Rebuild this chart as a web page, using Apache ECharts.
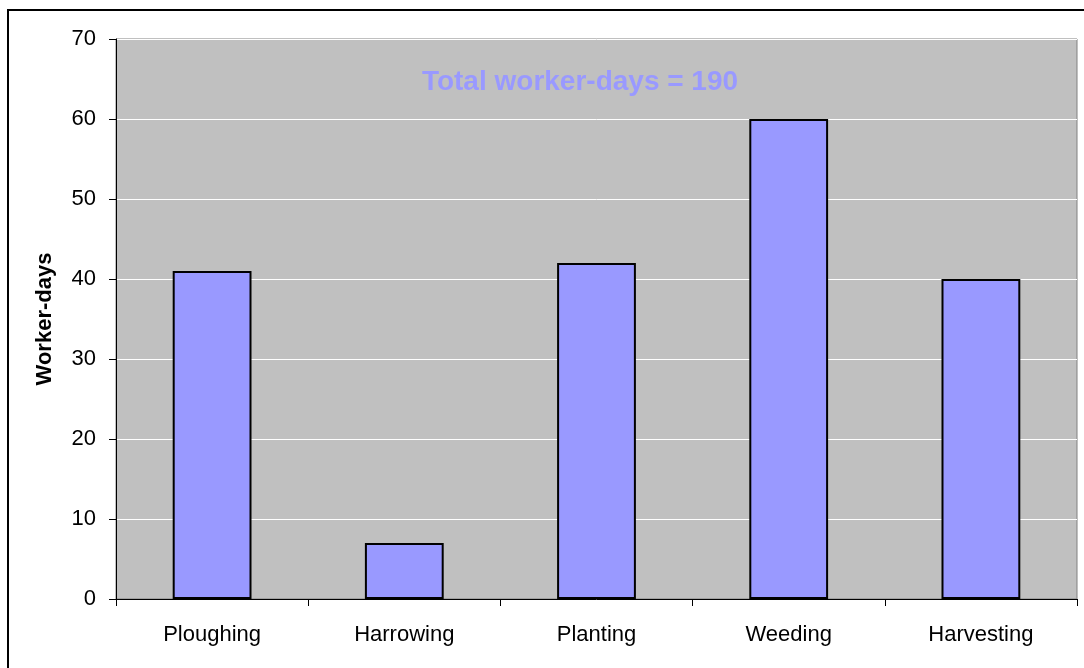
<!DOCTYPE html>
<html>
<head>
<meta charset="utf-8">
<style>
  html, body { margin: 0; padding: 0; background: #fff; }
  #chart { width: 1084px; height: 668px; }
</style>
<script src="https://cdn.jsdelivr.net/npm/echarts@6/dist/echarts.min.js"></script>
</head>
<body>
<div id="chart"></div>
<script>
// Worker-days spent on each field operation
const categories = ['Ploughing', 'Harrowing', 'Planting', 'Weeding', 'Harvesting'];
const workerDays = [41, 7, 42, 60, 40];
const totalLabel = 'Total worker-days = 190';
const yAxisTitle = 'Worker-days';

const FONT = '"Liberation Sans", Arial, sans-serif';

const chart = echarts.init(document.getElementById('chart'), null, { renderer: 'canvas' });

chart.setOption({
  animation: false,
  backgroundColor: '#ffffff',
  grid: {
    left: 116, right: 7, top: 39, bottom: 69,
    show: true,
    backgroundColor: '#C0C0C0',
    borderColor: '#808080',
    borderWidth: 1
  },
  xAxis: {
    type: 'category',
    data: categories,
    axisLine: { lineStyle: { color: '#000', width: 1 } },
    axisTick: { show: true, alignWithLabel: false, length: 7, lineStyle: { color: '#000' } },
    axisLabel: { color: '#000', fontFamily: FONT, fontSize: 22, margin: 25 },
    splitLine: { show: false }
  },
  yAxis: {
    type: 'value',
    min: 0, max: 70, interval: 10,
    name: yAxisTitle,
    nameLocation: 'middle',
    nameGap: 60,
    nameRotate: 90,
    nameTextStyle: { color: '#000', fontFamily: FONT, fontSize: 22, fontWeight: 'bold' },
    axisLine: { show: true, lineStyle: { color: '#000', width: 1 } },
    axisTick: { show: true, length: 7, lineStyle: { color: '#000' } },
    axisLabel: { color: '#000', fontFamily: FONT, fontSize: 22, margin: 20 },
    splitLine: { show: true, lineStyle: { color: '#ffffff', width: 1 } }
  },
  series: [{
    type: 'bar',
    data: workerDays,
    barWidth: '41%',
    itemStyle: { color: '#9999FF', borderColor: '#000', borderWidth: 2 }
  }],
  graphic: [
    {
      type: 'rect',
      shape: { x: 8, y: 10, width: 1200, height: 1000 },
      style: { fill: 'none', stroke: '#000', lineWidth: 2 },
      z: 100
    },
    {
      type: 'text',
      x: 580, y: 82,
      style: {
        text: totalLabel,
        fill: '#9999FF',
        font: 'bold 28px ' + FONT,
        textAlign: 'center',
        textVerticalAlign: 'middle'
      },
      z: 100
    }
  ]
});
</script>
</body>
</html>
